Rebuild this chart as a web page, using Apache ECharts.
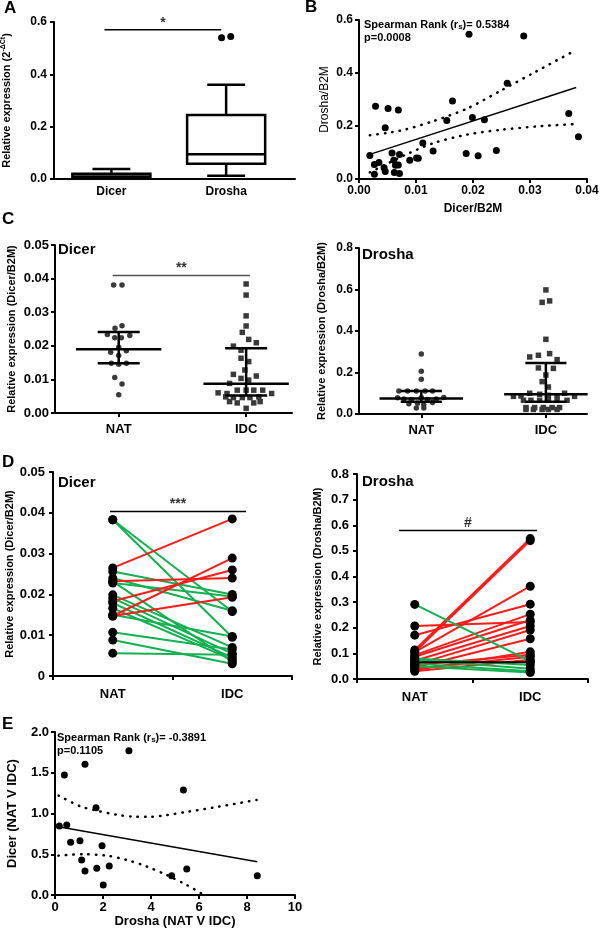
<!DOCTYPE html>
<html><head><meta charset="utf-8">
<script src="https://cdn.jsdelivr.net/npm/echarts@6/dist/echarts.min.js"></script>
<style>html,body{margin:0;padding:0;background:#fff}#c{width:600px;height:931px}</style>
</head><body><div id="c"></div>
<script>
// ---------- DATA ----------
// Panel A (box plot)
const boxCats = ['Dicer', 'Drosha'];
const boxStats = [[0.002, 0.005, 0.010, 0.020, 0.038], [0.012, 0.058, 0.095, 0.245, 0.360]];
const boxOutliersX = [0.96, 1.04];
const boxOutliersY = [0.540, 0.545];
// Panel B (Dicer vs Drosha scatter)
const bX = [0.0019,0.0029,0.0051,0.0069,0.0046,0.0027,0.0035,0.0027,0.0044,0.0046,0.0058,0.0061,0.0064,0.0069,0.0071,0.0062,0.0071,0.0089,0.0101,0.0104,0.0112,0.0130,0.0154,0.0164,0.0188,0.0193,0.0199,0.0209,0.0220,0.0241,0.0260,0.0289,0.0368,0.0385];
const bY = [0.089,0.275,0.266,0.260,0.193,0.055,0.062,0.018,0.042,0.028,0.098,0.071,0.052,0.053,0.092,0.025,0.021,0.071,0.079,0.078,0.136,0.106,0.221,0.294,0.096,0.546,0.232,0.088,0.224,0.108,0.361,0.540,0.247,0.159];
const bFitX = [0.0019, 0.0381];
const bFitY = [0.093, 0.345];
const bBandX = [0.0019, 0.005, 0.008, 0.013, 0.019, 0.025, 0.031, 0.0375];
const bUpperY = [0.165, 0.174, 0.186, 0.218, 0.266, 0.335, 0.405, 0.480];
const bLowerY = [0.025, 0.058, 0.090, 0.135, 0.168, 0.186, 0.198, 0.207];
// Panel C (NAT vs IDC scatter)
const groupCats = ['NAT', 'IDC'];
const cDicerNatX = [0.96,1.026,0.971,1.026,0.911,0.969,1.021,1.087,1.0,0.937,1.06,1.0,0.942,1.0,1.06,0.969,1.026,1.0];
const cDicerNatY = [0.0381,0.0381,0.0252,0.0260,0.0234,0.0224,0.0224,0.0231,0.0196,0.0181,0.0185,0.0171,0.0148,0.0145,0.0148,0.0106,0.0086,0.0054];
const cDicerIdcX = [2.0,2.0,2.0,2.0,1.97,2.02,2.08,1.90,1.96,1.96,2.02,1.99,1.90,2.08,1.96,2.02,1.87,1.78,1.85,1.93,2.0,2.06,2.13,2.2,1.84,1.90,1.97,2.03,2.10,1.87,1.93,2.06,2.11,2.0];
const cDicerIdcY = [0.0384,0.0351,0.0289,0.0259,0.0240,0.0219,0.0209,0.0199,0.0187,0.0163,0.0153,0.0128,0.0115,0.0110,0.0103,0.0098,0.0088,0.0060,0.0058,0.0068,0.0068,0.0068,0.0068,0.0058,0.0048,0.0046,0.0046,0.0046,0.0048,0.0034,0.0030,0.0030,0.0034,0.0014];
const cDicerStats = [[1, 0.0190, 0.0148, 0.0241], [2, 0.0087, 0.0052, 0.0193]]; // [group, median, lower, upper]
const cDroshaNatX = [1.0,1.0,1.0,0.82,0.89,0.96,1.03,1.09,0.81,0.86,0.92,1.0,1.05,1.12,1.18,0.90,0.97,1.02,1.09,0.96,1.02];
const cDroshaNatY = [0.289,0.206,0.167,0.111,0.111,0.111,0.111,0.111,0.078,0.072,0.070,0.080,0.070,0.072,0.080,0.050,0.052,0.045,0.055,0.029,0.029];
const cDroshaIdcX = [2.0,1.97,2.03,2.0,2.03,1.87,1.94,2.09,1.94,2.06,2.0,1.97,2.02,1.74,1.80,1.87,1.95,2.02,2.09,2.15,2.23,1.82,1.88,1.95,2.02,2.09,2.17,1.84,1.91,1.98,2.05,2.11,1.84,1.90,1.97,2.02,2.09];
const cDroshaIdcY = [0.598,0.538,0.545,0.360,0.291,0.275,0.283,0.262,0.222,0.220,0.188,0.156,0.130,0.085,0.087,0.100,0.095,0.090,0.088,0.100,0.085,0.066,0.066,0.066,0.066,0.066,0.066,0.031,0.031,0.031,0.031,0.031,0.022,0.022,0.022,0.022,0.022];
const cDroshaStats = [[1, 0.075, 0.059, 0.111], [2, 0.095, 0.059, 0.246]];
// Panel D (paired NAT -> IDC)
const dDicerNat = [0.0383,0.0383,0.0256,0.0240,0.0228,0.0199,0.0191,0.0179,0.0166,0.0150,0.0107,0.0088,0.0056,0.0232,0.0265,0.0232,0.0183,0.0147,0.0147];
const dDicerIdc = [0.0158,0.0095,0.0200,0.0160,0.0195,0.0070,0.0055,0.0045,0.0040,0.0097,0.0065,0.0030,0.0052,0.0035,0.0385,0.0240,0.0260,0.0289,0.0193];
const dDroshaNat = [0.113,0.105,0.105,0.171,0.093,0.087,0.207,0.071,0.055,0.045,0.035,0.040,0.055,0.030,0.291,0.080,0.075,0.060,0.050,0.065];
const dDroshaIdc = [0.548,0.540,0.362,0.292,0.253,0.230,0.222,0.207,0.191,0.157,0.106,0.087,0.095,0.075,0.070,0.055,0.040,0.030,0.025,0.065];
// Panel E (fold-change scatter)
const eX = [0.18,0.49,0.39,1.25,0.65,1.04,1.71,1.96,1.11,1.25,1.74,2.26,2.01,3.08,5.35,4.86,5.49,8.43];
const eY = [0.847,0.859,1.472,1.603,0.646,0.667,1.072,0.605,0.429,0.294,0.327,0.356,0.123,1.771,1.288,0.237,0.319,0.237];
const eFitX = [0.14, 8.43];
const eFitY = [0.838, 0.409];
const eUpperX = [0.15, 1.04, 1.74, 2.57, 3.26, 3.96, 4.65, 5.49, 6.74, 8.4];
const eUpperY = [1.22, 1.09, 1.035, 0.985, 0.962, 0.96, 0.98, 1.02, 1.08, 1.166];
const eLowerX = [0.14, 1.18, 2.15, 2.99, 3.82, 4.65, 5.49, 6.2];
const eLowerY = [0.483, 0.50, 0.483, 0.43, 0.35, 0.245, 0.123, 0.0];
// significance marks: [xStart, xEnd, y, text]
const sigA = [-0.06, 0.957, 0.57, '*'];
const sigC = [0.953, 2.03, 0.0409, '**'];
const sigDL = [-0.023, 1.115, 0.0403, '***'];
const sigDR = [-0.136, 1.058, 0.58, '#'];

// ---------- CHART ----------
const FONT = '"Liberation Sans", Arial, Helvetica, sans-serif';
const RED = '#ff1a1a', GREEN = '#12b050';
const zip = (a, b) => a.map((v, i) => [v, b[i]]);

function lbl(size, margin, extra) {
  return Object.assign({ color: '#000', fontWeight: 'bold', fontFamily: FONT, fontSize: size, margin: margin }, extra || {});
}
function axisBase(gi, extra) {
  return Object.assign({
    gridIndex: gi,
    axisLine: { show: true, onZero: false, lineStyle: { color: '#000', width: 2 } },
    axisTick: { show: true, length: 4, lineStyle: { color: '#000', width: 2 } },
    splitLine: { show: false },
    axisLabel: lbl(12, 6),
    nameTextStyle: { color: '#000', fontWeight: 'bold', fontFamily: FONT, fontSize: 11 },
    nameLocation: 'middle'
  }, extra);
}
function fixed(d) { return v => v.toFixed(d); }
function tickAt(vals) { return { show: true, length: 4, customValues: vals, lineStyle: { color: '#000', width: 2 } }; }

const grids = [
  { left: 54, top: 22, width: 241, height: 157 },
  { left: 359, top: 20, width: 228, height: 159 },
  { left: 55, top: 245, width: 237, height: 168 },
  { left: 359, top: 248, width: 228, height: 166 },
  { left: 53, top: 472, width: 239, height: 204 },
  { left: 357, top: 474, width: 231, height: 205 },
  { left: 55, top: 732, width: 240, height: 163 }
].map(g => Object.assign({ containLabel: false, outerBoundsMode: 'none' }, g));

const xAxes = [
  axisBase(0, { type: 'value', min: -0.5, max: 1.6, axisTick: { show: false },
    axisLabel: lbl(12, 7, { customValues: [0, 1], formatter: v => boxCats[Math.round(v)] }) }),
  axisBase(1, { type: 'value', min: 0, max: 0.04, interval: 0.01, name: 'Dicer/B2M', nameGap: 24,
    nameTextStyle: { color: '#000', fontWeight: 'bold', fontFamily: FONT, fontSize: 12 },
    axisLabel: lbl(12, 6, { formatter: fixed(2) }) }),
  axisBase(2, { type: 'value', min: 0.5, max: 2.36, axisTick: tickAt([1, 2]),
    axisLabel: lbl(13, 10, { customValues: [1, 2], formatter: v => groupCats[Math.round(v) - 1] }) }),
  axisBase(3, { type: 'value', min: 0.5, max: 2.33, axisTick: tickAt([1, 2]),
    axisLabel: lbl(13, 10, { customValues: [1, 2], formatter: v => groupCats[Math.round(v) - 1] }) }),
  axisBase(4, { type: 'value', min: -0.5, max: 1.5, axisTick: tickAt([-0.5, 0.5, 1.5]),
    axisLabel: lbl(13, 12, { customValues: [0, 1], formatter: v => groupCats[Math.round(v)] }) }),
  axisBase(5, { type: 'value', min: -0.5, max: 1.5, axisTick: tickAt([-0.5, 0.5, 1.5]),
    axisLabel: lbl(13, 12, { customValues: [0, 1], formatter: v => groupCats[Math.round(v)] }) }),
  axisBase(6, { type: 'value', min: 0, max: 10, interval: 2, name: 'Drosha (NAT V IDC)', nameGap: 20,
    nameTextStyle: { color: '#000', fontWeight: 'bold', fontFamily: FONT, fontSize: 13 },
    axisLabel: lbl(13, 6) })
];

const yAxes = [
  axisBase(0, { type: 'value', min: 0, max: 0.6, interval: 0.2, name: 'Relative expression (2{sup|-ΔCt})', nameGap: 40,
    nameTextStyle: { color: '#000', fontWeight: 'bold', fontFamily: FONT, fontSize: 11,
      rich: { sup: { fontSize: 7, fontWeight: 'bold', fontFamily: FONT, color: '#000', padding: [0, 0, 7, 0] } } },
    axisLabel: lbl(12, 7, { formatter: fixed(1) }) }),
  axisBase(1, { type: 'value', min: 0, max: 0.6, interval: 0.2, name: 'Drosha/B2M', nameGap: 28,
    nameTextStyle: { color: '#000', fontWeight: 'normal', fontFamily: FONT, fontSize: 12 },
    axisLabel: lbl(12, 6, { formatter: fixed(1) }) }),
  axisBase(2, { type: 'value', min: 0, max: 0.05, interval: 0.01, name: 'Relative expression (Dicer/B2M)', nameGap: 38,
    axisLabel: lbl(13, 6, { formatter: fixed(2) }) }),
  axisBase(3, { type: 'value', min: 0, max: 0.8, interval: 0.2, name: 'Relative expression (Drosha/B2M)', nameGap: 32,
    axisLabel: lbl(12, 6, { formatter: fixed(1) }) }),
  axisBase(4, { type: 'value', min: 0, max: 0.05, interval: 0.01, name: 'Relative expression (Dicer/B2M)', nameGap: 38,
    axisLabel: lbl(13, 8, { formatter: v => v === 0 ? '0' : v.toFixed(2) }) }),
  axisBase(5, { type: 'value', min: 0, max: 0.8, interval: 0.1, name: 'Relative expression (Drosha/B2M)', nameGap: 34,
    axisLabel: lbl(13, 8, { formatter: fixed(1) }) }),
  axisBase(6, { type: 'value', min: 0, max: 2, interval: 0.5, name: 'Dicer (NAT V IDC)', nameGap: 36,
    nameTextStyle: { color: '#000', fontWeight: 'bold', fontFamily: FONT, fontSize: 13 },
    axisLabel: lbl(13, 6, { formatter: fixed(1) }) })
];

const series = [];
const onAxis = i => ({ xAxisIndex: i, yAxisIndex: i });
const solidDot = c => ({ color: c, opacity: 1 });

// Panel A box plot (custom)
series.push(Object.assign({
  type: 'custom', z: 3,
  data: boxStats.map((s, i) => [i].concat(s)),
  encode: { x: 0, y: [1, 2, 3, 4, 5] },
  renderItem: function (params, api) {
    const x = api.value(0);
    const mn = api.value(1), q1 = api.value(2), md = api.value(3), q3 = api.value(4), mx = api.value(5);
    const bl = api.coord([x - 0.34, q1]), tr = api.coord([x + 0.34, q3]);
    const c = api.coord([x, md]);
    const pMax = api.coord([x, mx]), pMin = api.coord([x, mn]);
    const capL = api.coord([x - 0.165, 0])[0], capR = api.coord([x + 0.165, 0])[0];
    const ls = { stroke: '#000', lineWidth: 2.5, fill: null };
    return { type: 'group', children: [
      { type: 'line', shape: { x1: c[0], y1: tr[1], x2: c[0], y2: pMax[1] }, style: ls },
      { type: 'line', shape: { x1: capL, y1: pMax[1], x2: capR, y2: pMax[1] }, style: ls },
      { type: 'line', shape: { x1: c[0], y1: bl[1], x2: c[0], y2: pMin[1] }, style: ls },
      { type: 'line', shape: { x1: capL, y1: pMin[1], x2: capR, y2: pMin[1] }, style: ls },
      { type: 'rect', shape: { x: bl[0], y: tr[1], width: tr[0] - bl[0], height: bl[1] - tr[1] }, style: { stroke: '#000', lineWidth: 2.5, fill: '#fff' } },
      { type: 'line', shape: { x1: bl[0], y1: c[1], x2: tr[0], y2: c[1] }, style: ls }
    ] };
  }
}, onAxis(0)));
series.push(Object.assign({ type: 'scatter', symbolSize: 7, itemStyle: solidDot('#000'), data: zip(boxOutliersX, boxOutliersY) }, onAxis(0)));

// significance bars
function sig(i, s, color) {
  series.push(Object.assign({ type: 'line', symbol: 'none', lineStyle: { color: color, width: 1.5 }, data: [[s[0], s[2]], [s[1], s[2]]] }, onAxis(i)));
  series.push(Object.assign({ type: 'scatter', symbolSize: 0, data: [[(s[0] + s[1]) / 2, s[2]]],
    label: { show: true, position: 'top', distance: 0, formatter: s[3], color: '#000', fontWeight: 'bold', fontFamily: FONT, fontSize: 14 } }, onAxis(i)));
}
sig(0, sigA, '#000');

// Panel B
series.push(Object.assign({ type: 'scatter', symbolSize: 7, itemStyle: solidDot('#000'), data: zip(bX, bY), z: 4 }, onAxis(1)));
series.push(Object.assign({ type: 'line', symbol: 'none', lineStyle: { color: '#000', width: 1.5 }, data: zip(bFitX, bFitY) }, onAxis(1)));
const dotted = { color: '#000', width: 2.5, type: [0.5, 7], cap: 'round' };
series.push(Object.assign({ type: 'line', symbol: 'none', smooth: 0.25, lineStyle: dotted, data: zip(bBandX, bUpperY) }, onAxis(1)));
series.push(Object.assign({ type: 'line', symbol: 'none', smooth: 0.25, lineStyle: dotted, data: zip(bBandX, bLowerY) }, onAxis(1)));

// Panel C
function errSeries(i, stats) {
  series.push(Object.assign({
    type: 'custom', z: 5, data: stats, encode: { x: 0, y: [1, 2, 3] },
    renderItem: function (params, api) {
      const x = api.value(0);
      const m = api.coord([x, api.value(1)]), lo = api.coord([x, api.value(2)]), hi = api.coord([x, api.value(3)]);
      const mL = api.coord([x - 0.335, 0])[0], mR = api.coord([x + 0.335, 0])[0];
      const cL = api.coord([x - 0.165, 0])[0], cR = api.coord([x + 0.165, 0])[0];
      const ls = { stroke: '#000', lineWidth: 2.5 };
      return { type: 'group', children: [
        { type: 'line', shape: { x1: mL, y1: m[1], x2: mR, y2: m[1] }, style: ls },
        { type: 'line', shape: { x1: m[0], y1: lo[1], x2: m[0], y2: hi[1] }, style: ls },
        { type: 'line', shape: { x1: cL, y1: lo[1], x2: cR, y2: lo[1] }, style: ls },
        { type: 'line', shape: { x1: cL, y1: hi[1], x2: cR, y2: hi[1] }, style: ls }
      ] };
    }
  }, onAxis(i)));
}
series.push(Object.assign({ type: 'scatter', symbol: 'circle', symbolSize: 5.5, itemStyle: solidDot('#3a3a3a'), data: zip(cDicerNatX, cDicerNatY) }, onAxis(2)));
series.push(Object.assign({ type: 'scatter', symbol: 'rect', symbolSize: 5.5, itemStyle: solidDot('#3a3a3a'), data: zip(cDicerIdcX, cDicerIdcY) }, onAxis(2)));
errSeries(2, cDicerStats);
sig(2, sigC, '#555');
series.push(Object.assign({ type: 'scatter', symbol: 'circle', symbolSize: 5.5, itemStyle: solidDot('#3a3a3a'), data: zip(cDroshaNatX, cDroshaNatY) }, onAxis(3)));
series.push(Object.assign({ type: 'scatter', symbol: 'rect', symbolSize: 5.5, itemStyle: solidDot('#3a3a3a'), data: zip(cDroshaIdcX, cDroshaIdcY) }, onAxis(3)));
errSeries(3, cDroshaStats);

// Panel D
function pairs(i, nat, idc) {
  nat.forEach((v, k) => {
    const w = idc[k];
    const col = w > v ? RED : (w < v ? GREEN : '#000');
    series.push(Object.assign({ type: 'line', symbol: 'none', z: 2, lineStyle: { color: col, width: 2 }, data: [[0, v], [1, w]] }, onAxis(i)));
  });
  series.push(Object.assign({ type: 'scatter', symbolSize: 9, z: 4, itemStyle: solidDot('#000'),
    data: nat.map(v => [0, v]).concat(idc.map(v => [1, v])) }, onAxis(i)));
}
pairs(4, dDicerNat, dDicerIdc);
sig(4, sigDL, '#000');
pairs(5, dDroshaNat, dDroshaIdc);
sig(5, sigDR, '#000');

// Panel E
series.push(Object.assign({ type: 'scatter', symbolSize: 7, itemStyle: solidDot('#000'), data: zip(eX, eY), z: 4 }, onAxis(6)));
series.push(Object.assign({ type: 'line', symbol: 'none', lineStyle: { color: '#000', width: 1.5 }, data: zip(eFitX, eFitY) }, onAxis(6)));
series.push(Object.assign({ type: 'line', symbol: 'none', smooth: 0.3, lineStyle: dotted, data: zip(eUpperX, eUpperY) }, onAxis(6)));
series.push(Object.assign({ type: 'line', symbol: 'none', smooth: 0.3, lineStyle: dotted, data: zip(eLowerX, eLowerY) }, onAxis(6)));

series.forEach(s => { s.animation = false; s.silent = true; });

function txt(x, y, text, size) {
  return { type: 'text', left: x, top: y, style: { text: text, fill: '#000', fontWeight: 'bold', fontFamily: FONT, fontSize: size } };
}
const spearRich = {
  n: { fontSize: 11, fontWeight: 'bold', fontFamily: FONT, fill: '#000', lineHeight: 13 },
  s: { fontSize: 8, fontWeight: 'bold', fontFamily: FONT, fill: '#000', lineHeight: 13, padding: [5, 0, 0, 0] }
};

const graphic = [
  txt(4, 0, 'A', 17), txt(305, -1, 'B', 17), txt(2, 211, 'C', 17), txt(2, 454, 'D', 17), txt(2, 716, 'E', 17),
  txt(58, 242, 'Dicer', 15), txt(362, 247, 'Drosha', 15), txt(58, 475, 'Dicer', 15), txt(362, 474, 'Drosha', 15),
  { type: 'text', left: 364, top: 18, style: { text: '{n|Spearman Rank (r}{s|s}{n|)= 0.5384}\n{n|p=0.0008}', rich: spearRich } },
  { type: 'text', left: 57, top: 731, style: { text: '{n|Spearman Rank (r}{s|s}{n|)= -0.3891}\n{n|p=0.1105}', rich: spearRich } }
];

const chart = echarts.init(document.getElementById('c'), null, { renderer: 'canvas' });
chart.setOption({
  backgroundColor: '#fff',
  animation: false,
  grid: grids,
  xAxis: xAxes,
  yAxis: yAxes,
  series: series,
  graphic: graphic
});
</script></body></html>
